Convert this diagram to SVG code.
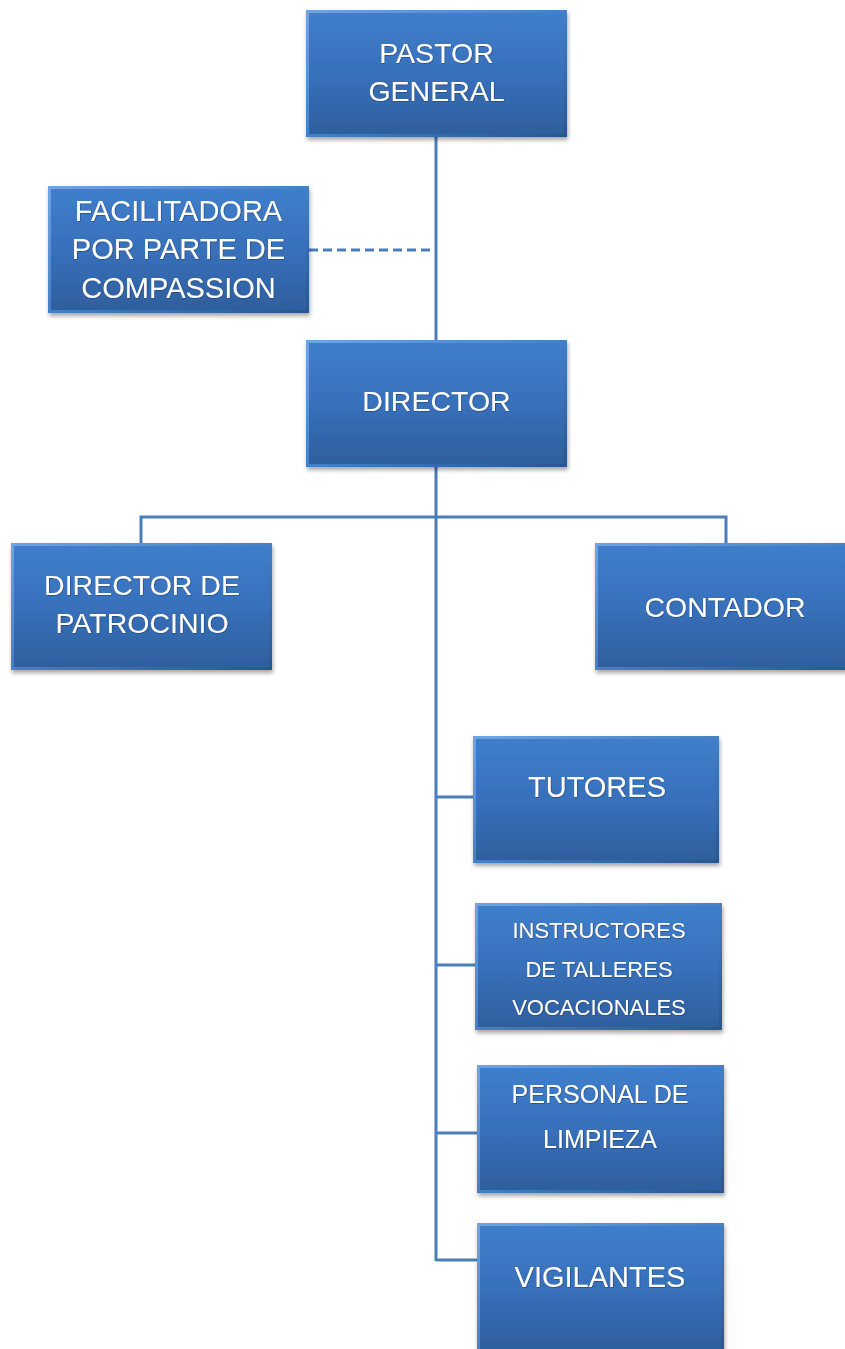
<svg xmlns="http://www.w3.org/2000/svg" width="845" height="1349" viewBox="0 0 845 1349">
<style>
.box{fill:url(#fillg);filter:url(#sh)}
.bev{fill:none;stroke:url(#bevg);stroke-width:3}
.t{fill:#ffffff;font-family:"Liberation Sans",Arial,sans-serif;text-anchor:middle;filter:url(#ts)}
.c{fill:none;stroke:#4a7ebb;stroke-width:3}
</style>
<defs>
<linearGradient id="fillg" x1="0" y1="0" x2="0" y2="1">
<stop offset="0" stop-color="#3f7fcc"/>
<stop offset="0.5" stop-color="#3870bb"/>
<stop offset="1" stop-color="#2e5e9c"/>
</linearGradient>
<linearGradient id="bevg" x1="0" y1="0" x2="1" y2="1">
<stop offset="0" stop-color="#6fa4e4"/>
<stop offset="0.5" stop-color="#4580c8"/>
<stop offset="1" stop-color="#2a5690"/>
</linearGradient>
<filter id="sh" x="-10%" y="-10%" width="125%" height="130%">
<feDropShadow dx="1" dy="3" stdDeviation="2" flood-color="#000" flood-opacity="0.35"/>
</filter>
<filter id="ts" x="-5%" y="-20%" width="110%" height="140%">
<feDropShadow dx="0.6" dy="0.6" stdDeviation="0.6" flood-color="#1a3a66" flood-opacity="0.8"/>
</filter>
</defs>
<rect width="845" height="1349" fill="#ffffff"/>
<g id="connectors">
<line class="c" x1="436" y1="137" x2="436" y2="340"/>
<line class="c" x1="309" y1="250" x2="436" y2="250" stroke-dasharray="9,5"/>
<line class="c" x1="436" y1="467" x2="436" y2="1261"/>
<polyline class="c" points="141,543 141,517 726,517 726,543"/>
<line class="c" x1="436" y1="797" x2="473" y2="797"/>
<line class="c" x1="436" y1="965" x2="475" y2="965"/>
<line class="c" x1="436" y1="1133" x2="477" y2="1133"/>
<line class="c" x1="436" y1="1260" x2="477" y2="1260"/>
</g>
<g id="pastor">
<rect class="box" x="306" y="10" width="261" height="127"/>
<rect class="bev" x="307.5" y="11.5" width="258" height="124"/>
<text class="t" font-size="28.5" x="436.5" y="63">PASTOR</text>
<text class="t" font-size="28.5" x="436.5" y="101">GENERAL</text>
</g>
<g id="facilitadora">
<rect class="box" x="48" y="186" width="261" height="127"/>
<rect class="bev" x="49.5" y="187.5" width="258" height="124"/>
<text class="t" font-size="29" x="178.5" y="221">FACILITADORA</text>
<text class="t" font-size="29" x="178.5" y="259">POR PARTE DE</text>
<text class="t" font-size="29" x="178.5" y="298">COMPASSION</text>
</g>
<g id="director">
<rect class="box" x="306" y="340" width="261" height="127"/>
<rect class="bev" x="307.5" y="341.5" width="258" height="124"/>
<text class="t" font-size="28.5" x="436.5" y="411">DIRECTOR</text>
</g>
<g id="director-patrocinio">
<rect class="box" x="11" y="543" width="261" height="127"/>
<rect class="bev" x="12.5" y="544.5" width="258" height="124"/>
<text class="t" font-size="28.5" x="142" y="595">DIRECTOR DE</text>
<text class="t" font-size="28.5" x="142" y="633">PATROCINIO</text>
</g>
<g id="contador">
<rect class="box" x="595" y="543" width="261" height="127"/>
<rect class="bev" x="596.5" y="544.5" width="258" height="124"/>
<text class="t" font-size="28.5" x="725" y="617">CONTADOR</text>
</g>
<g id="tutores">
<rect class="box" x="473" y="736" width="246" height="127"/>
<rect class="bev" x="474.5" y="737.5" width="243" height="124"/>
<text class="t" font-size="29" x="597" y="797">TUTORES</text>
</g>
<g id="instructores">
<rect class="box" x="475" y="903" width="247" height="127"/>
<rect class="bev" x="476.5" y="904.5" width="244" height="124"/>
<text class="t" font-size="22" x="599" y="938">INSTRUCTORES</text>
<text class="t" font-size="22" x="599" y="977">DE TALLERES</text>
<text class="t" font-size="22" x="599" y="1015">VOCACIONALES</text>
</g>
<g id="personal">
<rect class="box" x="477" y="1065" width="247" height="128"/>
<rect class="bev" x="478.5" y="1066.5" width="244" height="125"/>
<text class="t" font-size="25" x="600" y="1103">PERSONAL DE</text>
<text class="t" font-size="25" x="600" y="1148">LIMPIEZA</text>
</g>
<g id="vigilantes">
<rect class="box" x="477" y="1223" width="247" height="130"/>
<rect class="bev" x="478.5" y="1224.5" width="244" height="127"/>
<text class="t" font-size="29" x="600" y="1287">VIGILANTES</text>
</g>
</svg>
